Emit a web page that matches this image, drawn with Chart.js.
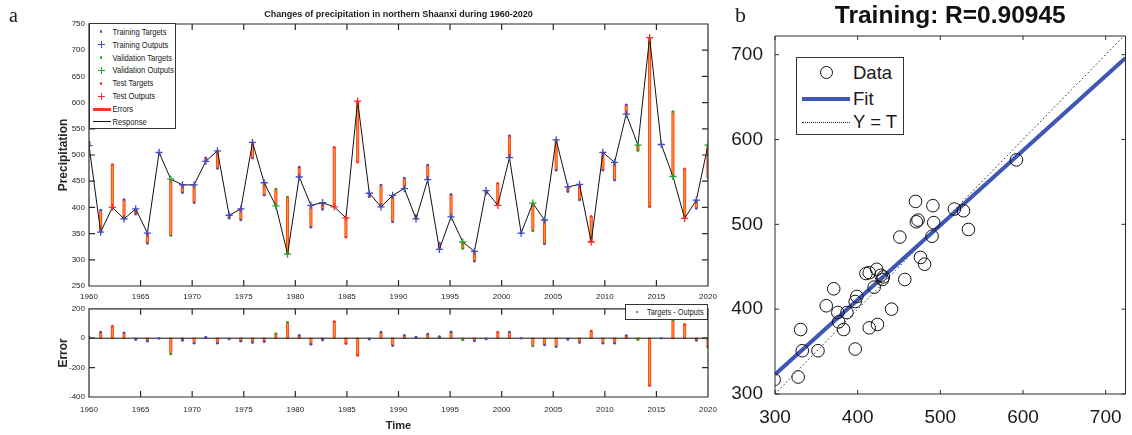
<!DOCTYPE html>
<html lang="en">
<head>
<meta charset="utf-8">
<title>Changes of precipitation in northern Shaanxi</title>
<script src="https://cdn.jsdelivr.net/npm/chart.js@4.4.1/dist/chart.umd.min.js"></script>
<style>
  body { margin: 0; background: #fff; }
  .page { position: relative; width: 1132px; height: 435px; overflow: hidden; font-family: "Liberation Sans", Arial, sans-serif; color: #1a1a1a; }
  .page canvas { position: absolute; }
  #response-chart { left: 0; top: 0; }
  #error-chart { left: 0; top: 300px; }
  #fit-chart { left: 730px; top: 0; }
  .panel-label { position: absolute; font-family: "Liberation Serif", "Times New Roman", serif; line-height: 1; }
  .legend { position: absolute; background: #fff; border: 1px solid #333; box-sizing: border-box; }
  .legend .txt { position: absolute; white-space: nowrap; line-height: 1; }
  .legend .sym { position: absolute; }
  .dot { border-radius: 50%; }
  .ring { border: 1px solid #111; border-radius: 50%; box-sizing: border-box; }
  .plus::before, .plus::after { content: ""; position: absolute; background: currentColor; }
  .plus::before { left: 0; top: 3px; width: 7px; height: 1.3px; }
  .plus::after { left: 3px; top: 0; width: 1.3px; height: 7px; }
  .dotted { border-top: 1px dotted #222; }
</style>
</head>
<body>
<div class="page">
  <canvas id="response-chart" width="730" height="304"></canvas>
  <canvas id="error-chart" width="730" height="135"></canvas>
  <canvas id="fit-chart" width="404" height="435"></canvas>

  <div class="panel-label" style="left:9px; top:5px; font-size:20px;">a</div>
  <div class="panel-label" style="left:735px; top:4px; font-size:22px;">b</div>

  <div class="legend" id="response-legend" style="left:89px; top:23px; width:87px; height:106px;"></div>
  <div class="legend" id="error-legend" style="left:625px; top:304px; width:83px; height:16px;"></div>
  <div class="legend" id="fit-legend" style="left:796px; top:57px; width:108px; height:78px;"></div>
</div>

<script>
// Data

const firstYear = 1960;
const lastYear = 2020;
const yearTicks = [1960, 1965, 1970, 1975, 1980, 1985, 1990, 1995, 2000, 2005, 2010, 2015, 2020];
const precipTicks = [250, 300, 350, 400, 450, 500, 550, 600, 650, 700, 750];
const errorTicks = [-400, -200, 0, 200];

// network response (outputs) and observed precipitation (targets)
const outputs = [518, 353, 400, 378, 397, 351, 505, 454, 443, 443, 488, 508, 385, 397, 524, 447, 403, 311,
  458, 404, 409, 401, 380, 603, 427, 401, 423, 436, 378, 453, 320, 382, 334, 316, 432, 404, 495, 351,
  408, 376, 529, 439, 444, 334, 505, 486, 578, 519, 724, 520, 459, 379, 414, 519];
const targets = [525, 395, 482, 415, 387, 331, 503, 346, 428, 409, 495, 474, 379, 376, 494, 423, 435, 420,
  477, 362, 396, 515, 343, 486, 420, 443, 372, 456, 385, 481, 332, 425, 321, 297, 426, 446, 537, 351,
  355, 330, 471, 430, 414, 383, 471, 452, 596, 508, 401, 520, 583, 474, 398, 457];
// which subset each sample belongs to
const sets = ["train", "train", "test", "train", "train", "train", "train", "val", "train", "train",
  "train", "train", "train", "train", "train", "train", "val", "val", "train", "train", "train", "test",
  "test", "test", "train", "train", "train", "train", "train", "train", "train", "train", "val", "train",
  "train", "test", "train", "train", "val", "train", "train", "train", "train", "test", "train", "train",
  "train", "val", "test", "train", "val", "test", "train", "val"];

// training regression panel
const fitTicks = [300, 400, 500, 600, 700];
const trainTargets = [299, 328, 331, 333, 352, 362, 371, 376, 377, 383, 387, 397, 399, 397, 414, 424, 410, 414, 423,
  420, 428, 430, 431, 441, 457, 451, 476, 481, 470, 471, 473, 491, 492, 490, 517, 528, 534, 592];
const trainOutputs = [317, 320, 376, 351, 351, 404, 424, 396, 385, 376, 396, 353, 415, 409, 378, 382, 442, 443, 447,
  426, 440, 435, 438, 400, 435, 485, 461, 453, 527, 503, 505, 522, 502, 486, 518, 516, 494, 576];
const fitSlope = 0.88;
const fitIntercept = 59;
const fitMin = 300;
const fitMax = 724;

const setColors = { train: "#3a4fc4", val: "#1fa82a", test: "#ff2a2a" };
const setNames = { train: "Training", val: "Validation", test: "Test" };
const errorColor = "#f8381c";
const errorCore = "#ff9124";

Chart.defaults.font.family = '"Liberation Sans", Arial, sans-serif';
Chart.defaults.color = "#262626";

// samples are spread evenly over 1960-2020
const xs = outputs.map((v, i) => firstYear + (i * (lastYear - firstYear)) / (outputs.length - 1));
const errors = targets.map((t, i) => t - outputs[i]);

function pick(values, set) {
  return values.map((v, i) => ({ x: xs[i], y: v })).filter((p, i) => sets[i] === set);
}

function fixedTicks(list) {
  return (scale) => {
    scale.ticks = list.map((v) => ({ value: v }));
  };
}

// MATLAB style box with inward ticks on every side
const matlabBox = {
  id: "matlabBox",
  afterDatasetsDraw(chart, args, opts) {
    const { ctx, chartArea: { left, right, top, bottom }, scales: { x, y } } = chart;
    const len = opts.tickLength;
    ctx.save();
    ctx.strokeStyle = "#2a2a2a";
    ctx.lineWidth = opts.lineWidth;
    ctx.beginPath();
    x.ticks.forEach((t) => {
      const px = x.getPixelForValue(t.value);
      ctx.moveTo(px, bottom);
      ctx.lineTo(px, bottom - len);
      ctx.moveTo(px, top);
      ctx.lineTo(px, top + len);
    });
    y.ticks.forEach((t) => {
      const py = y.getPixelForValue(t.value);
      ctx.moveTo(left, py);
      ctx.lineTo(left + len, py);
      ctx.moveTo(right, py);
      ctx.lineTo(right - len, py);
    });
    ctx.rect(left, top, right - left, bottom - top);
    ctx.stroke();
    ctx.restore();
  },
};

const setKeys = ["train", "val", "test"];

// error bars: red outer stroke with an orange core
function errorBars(data, order) {
  return [
    { type: "bar", label: "Errors", data: data, backgroundColor: errorCore, barThickness: 0.8, grouped: false, order: order },
    { type: "bar", label: "Errors", data: data, backgroundColor: errorColor, barThickness: 2.4, grouped: false, order: order + 1 },
  ];
}

// Response panel
new Chart(document.getElementById("response-chart"), {
  type: "scatter",
  data: {
    datasets: [
      ...setKeys.map((s) => ({
        label: setNames[s] + " Outputs",
        data: pick(outputs, s),
        pointStyle: "cross",
        pointRadius: 3.6,
        borderColor: setColors[s],
        borderWidth: 1.3,
        order: 0,
      })),
      ...setKeys.map((s) => ({
        label: setNames[s] + " Targets",
        data: pick(targets, s),
        pointRadius: 1.2,
        borderWidth: 0,
        backgroundColor: setColors[s],
        order: 1,
      })),
      {
        type: "line",
        label: "Response",
        data: outputs.map((v, i) => ({ x: xs[i], y: v })),
        borderColor: "#111",
        borderWidth: 1,
        pointRadius: 0,
        tension: 0,
        order: 2,
      },
      ...errorBars(outputs.map((v, i) => ({ x: xs[i], y: [targets[i], v] })), 3),
    ],
  },
  options: {
    responsive: false,
    animation: false,
    events: [],
    layout: { padding: { left: 54, right: 22, top: 0, bottom: 0 } },
    scales: {
      x: {
        type: "linear",
        min: firstYear,
        max: lastYear,
        offset: false,
        afterBuildTicks: fixedTicks(yearTicks),
        afterFit: (scale) => { scale.height = 18; },
        grid: { display: false, drawTicks: false },
        border: { display: false },
        ticks: { font: { size: 8 }, padding: 6, maxRotation: 0, autoSkip: false, callback: (v) => String(v) },
      },
      y: {
        min: 250,
        max: 750,
        afterBuildTicks: fixedTicks(precipTicks),
        afterFit: (scale) => { scale.width = 35; },
        grid: { display: false, drawTicks: false },
        border: { display: false },
        ticks: { font: { size: 8 }, padding: 4 },
        title: { display: true, text: "Precipitation", font: { size: 12, weight: "bold" }, padding: { top: 2, bottom: 0 } },
      },
    },
    plugins: {
      legend: { display: false },
      tooltip: { enabled: false },
      title: {
        display: true,
        fullSize: false,
        text: "Changes of precipitation in northern Shaanxi during 1960-2020",
        font: { size: 9, weight: "bold" },
        color: "#1a1a1a",
        padding: { top: 9, bottom: 4.2 },
      },
      matlabBox: { tickLength: 6, lineWidth: 1.2 },
    },
  },
  plugins: [matlabBox],
});

// Error panel
new Chart(document.getElementById("error-chart"), {
  type: "scatter",
  data: {
    datasets: [
      ...setKeys.map((s) => ({
        label: setNames[s] + " Errors",
        data: pick(errors, s),
        pointRadius: 1.3,
        borderWidth: 0,
        backgroundColor: setColors[s],
        order: 0,
      })),
      {
        type: "line",
        label: "Zero",
        data: [{ x: firstYear, y: 0 }, { x: lastYear, y: 0 }],
        borderColor: "#111",
        borderWidth: 1,
        pointRadius: 0,
        order: 1,
      },
      ...errorBars(errors.map((e, i) => ({ x: xs[i], y: [0, e] })), 2),
    ],
  },
  options: {
    responsive: false,
    animation: false,
    events: [],
    layout: { padding: { left: 54, right: 22, top: 5, bottom: 0 } },
    scales: {
      x: {
        type: "linear",
        min: firstYear,
        max: lastYear,
        offset: false,
        afterBuildTicks: fixedTicks(yearTicks),
        afterFit: (scale) => { scale.height = 38; },
        grid: { display: false, drawTicks: false },
        border: { display: false },
        ticks: { font: { size: 8 }, padding: 8, maxRotation: 0, autoSkip: false, callback: (v) => String(v) },
        title: { display: true, text: "Time", font: { size: 11, weight: "bold" }, padding: { top: 0, bottom: 2 } },
      },
      y: {
        min: -400,
        max: 200,
        afterBuildTicks: fixedTicks(errorTicks),
        afterFit: (scale) => { scale.width = 35; },
        grid: { display: false, drawTicks: false },
        border: { display: false },
        ticks: { font: { size: 8 }, padding: 4 },
        title: { display: true, text: "Error", font: { size: 12, weight: "bold" }, padding: { top: 2, bottom: 0 } },
      },
    },
    plugins: {
      legend: { display: false },
      tooltip: { enabled: false },
      matlabBox: { tickLength: 6, lineWidth: 1.2 },
    },
  },
  plugins: [matlabBox],
});

// Training regression panel
new Chart(document.getElementById("fit-chart"), {
  type: "scatter",
  data: {
    datasets: [
      {
        label: "Data",
        data: trainTargets.map((t, i) => ({ x: t, y: trainOutputs[i] })),
        pointStyle: "circle",
        pointRadius: 6.3,
        borderColor: "#111",
        borderWidth: 1,
        backgroundColor: "rgba(0,0,0,0)",
        order: 0,
      },
      {
        type: "line",
        label: "Fit",
        data: [fitMin, fitMax].map((t) => ({ x: t, y: fitSlope * t + fitIntercept })),
        borderColor: "#3f57b4",
        borderWidth: 4,
        pointRadius: 0,
        order: 1,
      },
      {
        type: "line",
        label: "Y = T",
        data: [fitMin, fitMax].map((t) => ({ x: t, y: t })),
        borderColor: "#222",
        borderWidth: 1,
        borderDash: [1.5, 2.5],
        pointRadius: 0,
        order: 2,
      },
    ],
  },
  options: {
    responsive: false,
    animation: false,
    events: [],
    layout: { padding: 0 },
    scales: {
      x: {
        min: 300,
        max: 724,
        afterBuildTicks: fixedTicks(fitTicks),
        afterFit: (scale) => { scale.height = 41; },
        grid: { display: false, drawTicks: false },
        border: { display: false },
        ticks: { font: { size: 19 }, padding: 12, color: "#1a1a1a" },
      },
      y: {
        min: 300,
        max: 722,
        afterBuildTicks: fixedTicks(fitTicks),
        afterFit: (scale) => { scale.width = 45; },
        grid: { display: false, drawTicks: false },
        border: { display: false },
        ticks: { font: { size: 19 }, padding: 12, color: "#1a1a1a" },
      },
    },
    plugins: {
      legend: { display: false },
      tooltip: { enabled: false },
      title: {
        display: true,
        fullSize: false,
        text: "Training: R=0.90945",
        font: { size: 24.5, weight: "bold" },
        color: "#111",
        padding: { top: 1.3, bottom: 5.3 },
      },
      matlabBox: { tickLength: 4, lineWidth: 1 },
    },
  },
  plugins: [matlabBox],
});

// Legends drawn as html on top of the charts
function buildLegend(id, entries, opts) {
  const box = document.getElementById(id);
  entries.forEach((e) => {
    const sym = document.createElement("div");
    sym.className = "sym " + e.kind;
    if (e.kind === "dot") {
      Object.assign(sym.style, { left: opts.symX - 1.3 + "px", top: e.y - 1.3 + "px", width: "2.6px", height: "2.6px", background: e.color });
    } else if (e.kind === "plus") {
      Object.assign(sym.style, { left: opts.symX - 3.5 + "px", top: e.y - 3.5 + "px", width: "7px", height: "7px", color: e.color });
    } else if (e.kind === "ring") {
      Object.assign(sym.style, { left: opts.symX - 6.5 + "px", top: e.y - 6.5 + "px", width: "13px", height: "13px" });
    } else if (e.kind === "line") {
      Object.assign(sym.style, { left: opts.lineX + "px", top: e.y - e.width / 2 + "px", width: opts.lineW + "px", height: e.width + "px", background: e.color });
    } else if (e.kind === "dotted") {
      Object.assign(sym.style, { left: opts.lineX + "px", top: e.y + "px", width: opts.lineW + "px", height: "0" });
    }
    box.appendChild(sym);

    const txt = document.createElement("div");
    txt.className = "txt";
    txt.textContent = e.label;
    Object.assign(txt.style, {
      left: opts.textX + "px",
      top: e.y + "px",
      fontSize: opts.fontSize + "px",
      transform: "translateY(-50%) scaleY(" + opts.stretch + ")",
      transformOrigin: "left center",
    });
    box.appendChild(txt);
  });
}

buildLegend("response-legend", [
  { label: "Training Targets", kind: "dot", color: setColors.train, y: 7.5 },
  { label: "Training Outputs", kind: "plus", color: setColors.train, y: 20.5 },
  { label: "Validation Targets", kind: "dot", color: setColors.val, y: 33.5 },
  { label: "Validation Outputs", kind: "plus", color: setColors.val, y: 46.3 },
  { label: "Test Targets", kind: "dot", color: setColors.test, y: 59.3 },
  { label: "Test Outputs", kind: "plus", color: setColors.test, y: 72 },
  { label: "Errors", kind: "line", color: errorColor, width: 3, y: 85 },
  { label: "Response", kind: "line", color: "#111", width: 1, y: 97.8 },
], { symX: 11.2, lineX: 3, lineW: 18, textX: 22.5, fontSize: 7.6, stretch: 1.3 });

buildLegend("error-legend", [
  { label: "Targets - Outputs", kind: "dot", color: setColors.train, y: 7 },
], { symX: 11, lineX: 3, lineW: 18, textX: 21, fontSize: 7.4, stretch: 1.3 });

buildLegend("fit-legend", [
  { label: "Data", kind: "ring", y: 14.5 },
  { label: "Fit", kind: "line", color: "#3f57b4", width: 4, y: 40.5 },
  { label: "Y = T", kind: "dotted", y: 64 },
], { symX: 29.5, lineX: 5, lineW: 48, textX: 56, fontSize: 18.5, stretch: 1 });
</script>
</body>
</html>
